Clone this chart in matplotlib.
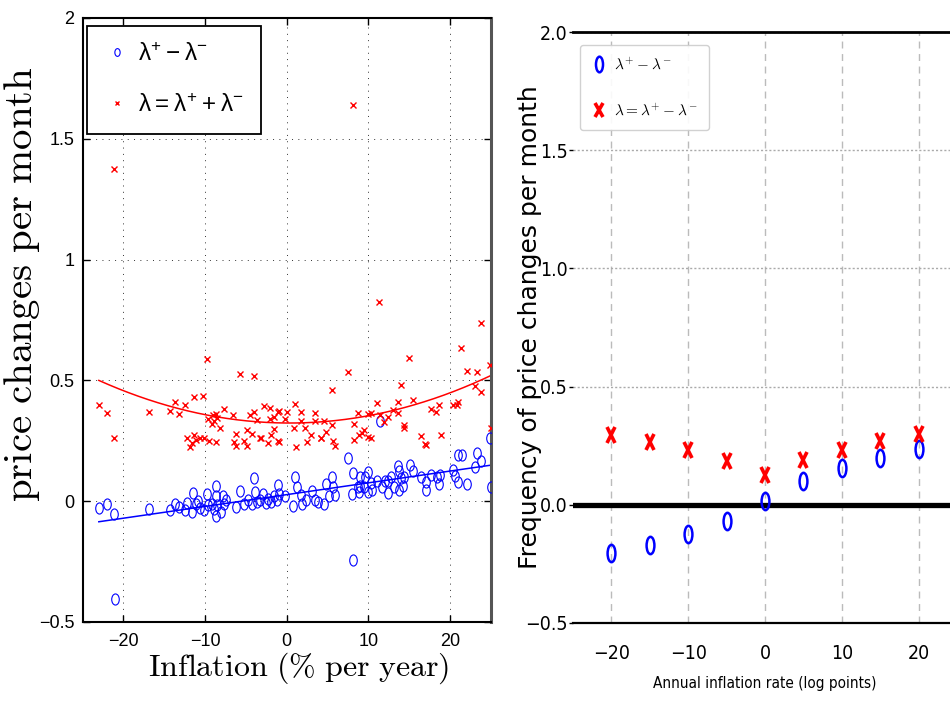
import numpy as np
import matplotlib
matplotlib.use("Agg")
import matplotlib.pyplot as plt
from matplotlib.markers import MarkerStyle
from matplotlib.transforms import Affine2D
from matplotlib.font_manager import FontProperties

# ---------------- data ----------------
# Left panel: one point per episode, inflation (% per year) vs. frequency measures
diff_infl = [-23.0, -22.0, -21.1, -21.0, -16.9, -14.3, -13.7, -13.2, -12.4, -12.2,
             -11.5, -11.6, -11.1, -10.9, -10.6, -10.1, -9.8, -9.6, -9.2, -8.6,
             -8.6, -8.9, -8.5, -8.6, -8.1, -7.7, -7.8, -7.4, -6.2, -5.7,
             -5.2, -4.7, -4.3, -4.0, -3.9, -3.7, -3.3, -2.9, -2.6, -2.3,
             -1.9, -1.5, -1.2, -1.1, -0.9, -0.2, 0.8, 1.0, 1.2, 1.8,
             1.9, 2.4, 3.1, 3.4, 3.8, 4.6, 4.8, 5.2, 5.5, 5.9,
             5.7, 7.5, 8.1, 8.0, 8.7, 8.1, 11.4, 24.9, 25.0, 21.0,
             21.4, 23.3, 23.8, 23.0, 20.3, 20.6, 21.0, 22.1, 18.8, 18.4,
             18.6, 17.6, 17.0, 17.1, 16.4, 15.1, 15.4, 14.4, 13.8, 13.6,
             14.0, 14.2, 13.8, 13.1, 12.8, 12.4, 12.4, 12.0, 11.7, 11.0,
             10.4, 10.3, 9.9, 9.6, 9.5, 9.0, 8.8, 9.0, 10.0]
diff_vals = [-0.028, -0.010, -0.054, -0.406, -0.034, -0.037, -0.012, -0.026, -0.037, -0.007,
             0.032, -0.046, -0.010, 0.000, -0.028, -0.037, 0.028, -0.016, -0.010, 0.063,
             0.020, -0.034, -0.016, -0.060, -0.046, -0.010, 0.020, 0.004, -0.023, 0.041,
             -0.010, 0.004, -0.010, 0.098, 0.037, -0.002, 0.004, 0.030, -0.006, 0.008,
             -0.002, 0.020, 0.004, 0.066, 0.030, 0.020, -0.020, 0.100, 0.060, 0.025,
             -0.010, 0.004, 0.043, 0.004, -0.005, -0.010, 0.070, 0.020, 0.100, 0.024,
             0.060, 0.180, 0.115, 0.030, 0.060, -0.245, 0.330, 0.262, 0.060, 0.190,
             0.190, 0.200, 0.167, 0.140, 0.131, 0.103, 0.080, 0.073, 0.108, 0.100,
             0.070, 0.108, 0.080, 0.046, 0.100, 0.150, 0.125, 0.100, 0.125, 0.147,
             0.097, 0.062, 0.048, 0.060, 0.100, 0.084, 0.035, 0.085, 0.060, 0.085,
             0.048, 0.075, 0.122, 0.100, 0.060, 0.100, 0.040, 0.062, 0.040]

freq_infl = [-23.0, -22.0, -21.1, -21.1, -16.9, -14.3, -13.7, -13.2, -12.4, -11.4,
             -10.2, -9.8, -12.2, -11.8, -11.6, -11.3, -11.1, -10.6, -10.1, -9.5,
             -8.6, -9.6, -9.0, -8.7, -8.5, -8.9, -8.2, -7.7, -9.1, -5.7,
             -4.0, -6.6, -2.8, -2.0, -1.1, -0.9, 1.0, 1.7, 3.4, -4.5,
             -4.0, -3.7, -2.1, -1.5, -0.2, 0.9, 2.2, 1.7, 3.4, 4.6,
             5.5, 4.8, 3.0, 4.2, -4.9, -4.3, -6.2, -6.4, -6.2, -5.2,
             -4.9, -3.3, -3.1, -2.3, -1.9, -1.5, -1.1, -1.0, 1.1, 2.5,
             4.2, 5.6, 5.9, 8.2, 8.7, 8.2, 8.8, 7.5, 5.5, 8.1,
             11.3, 15.0, 21.3, 22.1, 23.3, 24.9, 14.0, 23.0, 23.8, 23.8,
             11.0, 13.6, 15.4, 10.0, 10.3, 11.4, 11.9, 12.4, 13.0, 13.6,
             17.6, 18.3, 18.6, 20.4, 20.8, 21.0, 14.3, 14.4, 9.2, 9.5,
             10.0, 10.3, 16.4, 16.9, 17.0, 18.9, 25.0, 0.0]
freq_vals = [0.400, 0.367, 0.260, 1.376, 0.370, 0.375, 0.410, 0.360, 0.400, 0.430,
             0.436, 0.590, 0.262, 0.225, 0.240, 0.276, 0.255, 0.262, 0.260, 0.250,
             0.245, 0.342, 0.356, 0.360, 0.345, 0.330, 0.305, 0.380, 0.320, 0.526,
             0.520, 0.356, 0.396, 0.384, 0.370, 0.372, 0.404, 0.370, 0.363, 0.356,
             0.370, 0.338, 0.340, 0.350, 0.340, 0.305, 0.305, 0.330, 0.330, 0.330,
             0.315, 0.287, 0.273, 0.260, 0.294, 0.280, 0.278, 0.246, 0.228, 0.250,
             0.228, 0.260, 0.262, 0.242, 0.273, 0.300, 0.250, 0.245, 0.225, 0.246,
             0.262, 0.250, 0.228, 0.320, 0.365, 0.252, 0.273, 0.533, 0.460, 1.640,
             0.826, 0.593, 0.636, 0.540, 0.535, 0.563, 0.480, 0.476, 0.450, 0.738,
             0.407, 0.410, 0.418, 0.360, 0.364, 0.356, 0.328, 0.350, 0.377, 0.364,
             0.380, 0.370, 0.400, 0.400, 0.398, 0.410, 0.315, 0.305, 0.283, 0.293,
             0.266, 0.260, 0.270, 0.235, 0.232, 0.273, 0.305, 0.370]

# Fitted curves: linear for the difference, quadratic for the total
diff_fit = [0.0272, 0.00488]                # intercept, slope
freq_fit = [0.3236, -0.000222, 0.0003238]   # c0, c1, c2

# Right panel: model values at each annual inflation rate
model_infl = [-20, -15, -10, -5, 0, 5, 10, 15, 20]
model_diff = [-0.205, -0.170, -0.123, -0.068, 0.018, 0.099, 0.155, 0.198, 0.237]
model_freq = [0.297, 0.264, 0.230, 0.186, 0.124, 0.190, 0.233, 0.268, 0.300]

left_xticks = [-20, -10, 0, 10, 20]
left_xticklabels = ["\u221220", "\u221210", "0", "10", "20"]
left_yticks = [-0.5, 0, 0.5, 1, 1.5, 2]
left_yticklabels = ["\u22120.5", "0", "0.5", "1", "1.5", "2"]
right_xticks = [-20, -10, 0, 10, 20]
right_xticklabels = ["\u221220", "\u221210", "0", "10", "20"]
right_yticks = [-0.5, 0.0, 0.5, 1.0, 1.5, 2.0]
right_yticklabels = ["\u22120.5", "0.0", "0.5", "1.0", "1.5", "2.0"]

# ---------------- figure ----------------
W, H = 950, 708
fig = plt.figure(figsize=(W / 100, H / 100), dpi=100)

def px_box(x0, y0, x1, y1):
    return [x0 / W, 1 - y1 / H, (x1 - x0) / W, (y1 - y0) / H]

ax1 = fig.add_axes(px_box(82.5, 18, 491, 622))
ax2 = fig.add_axes(px_box(573, 32, 957, 623))

sans = ["Liberation Sans", "DejaVu Sans"]
cond_ticks = FontProperties(family="DejaVu Sans", stretch="condensed", size=14)
cond_label = FontProperties(family="DejaVu Sans", stretch="condensed", size=11)

# ---------- left panel ----------
circ_l = MarkerStyle("o", transform=Affine2D().scale(0.68, 1.0))
x_l = MarkerStyle("x", transform=Affine2D().scale(0.85, 1.0))

xs_d = np.linspace(min(diff_infl), max(diff_infl), 100)
xs_f = np.linspace(min(freq_infl), max(freq_infl), 200)

h1, = ax1.plot(diff_infl, diff_vals, linestyle="none", marker=circ_l, ms=8.0,
               mfc="none", mec="#0000ff", mew=0.8, zorder=3)
h2, = ax1.plot(freq_infl, freq_vals, linestyle="none", marker=x_l, ms=5.0,
               mec="#ff0000", mew=1.0, zorder=3)
ax1.plot(xs_d, np.polyval(diff_fit[::-1], xs_d), color="#0000ff", lw=1.1, zorder=2)
ax1.plot(xs_f, np.polyval(freq_fit[::-1], xs_f), color="#ff0000", lw=1.1, zorder=2)

ax1.set_xlim(-25, 25)
ax1.set_ylim(-0.5, 2.0)
ax1.set_xticks(left_xticks)
ax1.set_xticklabels(left_xticklabels, family=sans, fontsize=13)
ax1.set_yticks(left_yticks)
ax1.set_yticklabels(left_yticklabels, family=sans, fontsize=13)
ax1.tick_params(direction="in", length=5, width=1, top=True, right=True)
ax1.tick_params(axis="x", pad=8)
ax1.tick_params(axis="y", pad=6)
ax1.grid(True, color="#333333", lw=0.7, linestyle=(0, (1, 5.5)))
for side in ("left", "top", "bottom"):
    ax1.spines[side].set_linewidth(1.5)
    ax1.spines[side].set_color("black")
ax1.spines["right"].set_linewidth(2.2)
ax1.spines["right"].set_color("#555555")

ax1.set_xlabel(r"$\mathrm{Inflation\ (\%\ per\ year)}$", fontsize=23,
               math_fontfamily="cm")
ax1.xaxis.set_label_coords(0.53, -0.048)
ax1.set_ylabel(r"$\mathrm{price\ changes\ per\ month}$", fontsize=29.5,
               math_fontfamily="cm", va="center")
ax1.yaxis.set_label_coords(-0.148, 0.56)

leg1 = ax1.legend([h1, h2],
                  [r"$\mathregular{\lambda^{+} - \lambda^{-}}$",
                   r"$\mathregular{\lambda = \lambda^{+} + \lambda^{-}}$"],
                  loc="upper left", bbox_to_anchor=(0.011, 0.987), borderaxespad=0,
                  prop=FontProperties(family=sans, size=17.5),
                  fancybox=False, edgecolor="black", framealpha=1,
                  markerscale=0.7, numpoints=1, handlelength=1.1,
                  handletextpad=0.3, borderpad=0.7, labelspacing=1.15)
leg1.get_frame().set_linewidth(1.3)

# ---------- right panel ----------
circ_r = MarkerStyle("o", transform=Affine2D().scale(0.45, 1.0))
x_r = MarkerStyle("x", transform=Affine2D().scale(0.5, 1.0))

ax2.axhline(0, color="black", lw=3.8, zorder=2)
r1, = ax2.plot(model_infl, model_diff, linestyle="none", marker=circ_r, ms=12.5,
               mfc="none", mec="#0000ff", mew=1.8, zorder=4)
r2, = ax2.plot(model_infl, model_freq, linestyle="none", marker=x_r, ms=11.5,
               mec="#ff0000", mew=2.6, zorder=4)

ax2.set_xlim(-25, 25)
ax2.set_ylim(-0.5, 2.0)
ax2.set_xticks(right_xticks)
ax2.set_xticklabels(right_xticklabels, fontproperties=cond_ticks)
ax2.set_yticks(right_yticks)
ax2.set_yticklabels(right_yticklabels, fontproperties=cond_ticks)
ax2.tick_params(axis="x", length=0, pad=15)
ax2.tick_params(axis="y", length=3, width=1, pad=1)
ax2.xaxis.grid(True, color="#bbbbbb", lw=1.0, linestyle=(0, (5, 4)))
ax2.yaxis.grid(True, color="#aaaaaa", lw=1.0, linestyle=(0, (1.5, 1.5)))
ax2.set_axisbelow(True)
ax2.spines["left"].set_visible(False)
ax2.spines["top"].set_linewidth(2.0)
ax2.spines["top"].set_color("black")
ax2.spines["bottom"].set_linewidth(1.6)
ax2.spines["bottom"].set_color("black")
ax2.spines["right"].set_visible(False)

ax2.set_xlabel("Annual inflation rate (log points)", fontproperties=cond_label,
               va="top")
ax2.xaxis.set_label_coords(0.5, -0.09)
ax2.set_ylabel("Frequency of price changes per month", family="DejaVu Sans",
               fontsize=18, va="center")
ax2.yaxis.set_label_coords(-0.112, 0.5)

leg2 = ax2.legend([r1, r2],
                  [r"$\lambda^{+} - \lambda^{-}$",
                   r"$\lambda = \lambda^{+} - \lambda^{-}$"],
                  loc="upper left", bbox_to_anchor=(0.018, 0.978), borderaxespad=0,
                  prop=FontProperties(family="DejaVu Sans", size=11,
                                      math_fontfamily="cm"),
                  fancybox=True, edgecolor="#cccccc", framealpha=0.9,
                  markerscale=0.9, numpoints=1, handlelength=1.0,
                  handletextpad=0.5, borderpad=0.75, labelspacing=2.0)

fig.savefig("out.png", dpi=100)
